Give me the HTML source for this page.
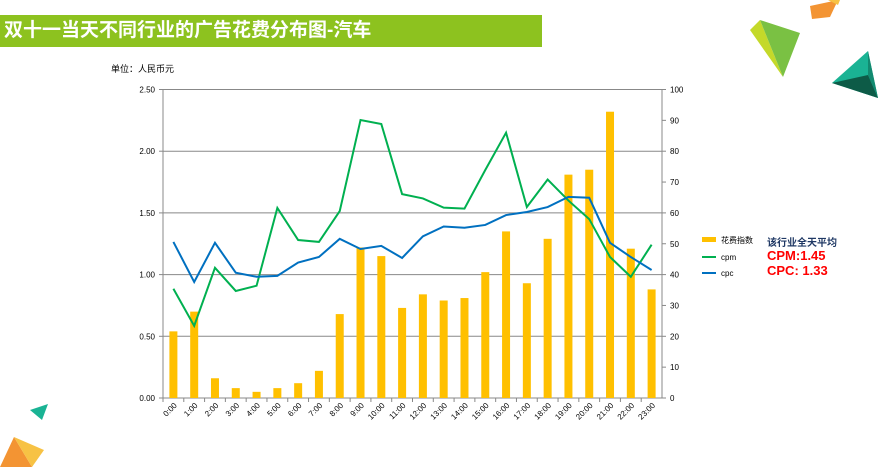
<!DOCTYPE html>
<html><head><meta charset="utf-8"><style>
body{margin:0;width:879px;height:467px;overflow:hidden;background:#fff;font-family:"Liberation Sans","Noto Sans CJK SC",sans-serif;position:relative}
.title{position:absolute;left:0;top:15px;width:542px;height:32px;background:#8dc21f;color:#fff;font-size:19px;font-weight:bold;line-height:32px;padding-left:4px;box-sizing:border-box}
</style></head><body>
<div class="title">双十一当天不同行业的广告花费分布图-汽车</div>
<svg width="879" height="467" style="position:absolute;left:0;top:0">
<g>
<polygon points="810,6 838,0 830,17 812,19" fill="#f39433"/>
<polygon points="828,0 840,0 838,5" fill="#f7c244"/>
<polygon points="750,30 760,20 783,77" fill="#c4d92a"/>
<polygon points="760,20 800,33 783,77" fill="#7ac143"/>
<polygon points="832,83 868,51 878,98" fill="#1ab394"/>
<polygon points="832,83 868,75 878,98" fill="#0d5b47"/>
<polygon points="868,51 868,75 878,98" fill="#128a70"/>
<polygon points="30,410 48,404 42,420" fill="#1ab394"/>
<polygon points="0,467 14,437 32,467" fill="#f39433"/>
<polygon points="14,437 44,450 32,467" fill="#f7c244"/>
</g>
<text x="111" y="72" font-size="9" fill="#000">单位：人民币元</text>
<g id="grid"></g><g id="bars"></g><g id="lines"></g><g id="axes"></g>
<g font-size="8">
<rect x="702" y="237" width="14" height="5" fill="#ffc000"/>
<text x="721" y="243">花费指数</text>
<line x1="702" y1="257" x2="716" y2="257" stroke="#00b050" stroke-width="2"/>
<text x="721" y="260">cpm</text>
<line x1="702" y1="273" x2="716" y2="273" stroke="#0070c0" stroke-width="2"/>
<text x="721" y="276">cpc</text>
</g>
<text x="767" y="246" font-size="10" font-weight="bold" fill="#1f3864">该行业全天平均</text>
<text x="767" y="260" font-size="13" font-weight="bold" fill="#ff0000">CPM:1.45</text>
<text x="767" y="275" font-size="13" font-weight="bold" fill="#ff0000">CPC: 1.33</text>
</svg>
<script>
const categories=["0:00","1:00","2:00","3:00","4:00","5:00","6:00","7:00","8:00","9:00","10:00","11:00","12:00","13:00","14:00","15:00","16:00","17:00","18:00","19:00","20:00","21:00","22:00","23:00"];
const spend=[0.54,0.70,0.16,0.08,0.05,0.08,0.12,0.22,0.68,1.22,1.15,0.73,0.84,0.79,0.81,1.02,1.35,0.93,1.29,1.81,1.85,2.32,1.21,0.88];
const cpm=[35.4,23.4,42.2,34.7,36.4,61.6,51.2,50.6,60.6,90.1,88.8,66.1,64.7,61.7,61.4,73.9,86.0,61.9,70.8,64.0,58.0,45.7,39.3,49.7];
const cpc=[50.6,37.6,50.3,40.6,39.3,39.6,43.9,45.7,51.6,48.3,49.3,45.4,52.4,55.6,55.2,56.1,59.3,60.3,61.9,65.2,64.9,50.3,45.7,41.5];
const leftTicks=["0.00","0.50","1.00","1.50","2.00","2.50"];
const rightTicks=["0","10","20","30","40","50","60","70","80","90","100"];
const L=163,R=662,T=89.5,B=398,NS="http://www.w3.org/2000/svg";
const slot=(R-L)/categories.length;
const xC=i=>L+slot*(i+0.5);
const yL=v=>B-(v/2.5)*(B-T);
const yR=v=>B-(v/100)*(B-T);
function mk(tag,attrs,parent){const e=document.createElementNS(NS,tag);for(const k in attrs)e.setAttribute(k,attrs[k]);document.getElementById(parent).appendChild(e);return e;}
leftTicks.forEach((t,i)=>{const y=yL(i*0.5);
 const g=mk("line",{x1:L,x2:R,y1:y,y2:y,stroke:"#888","stroke-width":1},"grid");
 
 
 const tx=mk("text",{x:L-8,y:y+3,"font-size":8,"text-anchor":"end"},"axes");tx.textContent=t;
 
 
 mk("line",{x1:L-4,x2:L,y1:y,y2:y,stroke:"#888"},"axes");
});
rightTicks.forEach((t,i)=>{const y=yR(i*10);
 const tx=mk("text",{x:R+8,y:y+3,"font-size":8},"axes");tx.textContent=t;
 
 
 mk("line",{x1:R,x2:R+4,y1:y,y2:y,stroke:"#888"},"axes");
});
mk("line",{x1:L,x2:L,y1:T,y2:B,stroke:"#888"},"axes");
mk("line",{x1:R,x2:R,y1:T,y2:B,stroke:"#888"},"axes");
categories.forEach((c,i)=>{
 const b=mk("rect",{x:xC(i)-4,width:8,y:yL(spend[i]),height:B-yL(spend[i]),fill:"#ffc000"},"bars");
 
 
 mk("line",{x1:L+slot*i,x2:L+slot*i,y1:B,y2:B+4,stroke:"#888"},"axes");
 const x=xC(i),y=B+8;
 const tx=mk("text",{x:x+4,y:y,"font-size":8,"text-anchor":"end",transform:`rotate(-45 ${x+4} ${y})`},"axes");tx.textContent=c;
 
 
});
const p1=mk("polyline",{points:cpm.map((v,i)=>xC(i)+","+yR(v)).join(" "),fill:"none",stroke:"#00b050","stroke-width":2},"lines");


const p2=mk("polyline",{points:cpc.map((v,i)=>xC(i)+","+yR(v)).join(" "),fill:"none",stroke:"#0070c0","stroke-width":2},"lines");


</script>
</body></html>
